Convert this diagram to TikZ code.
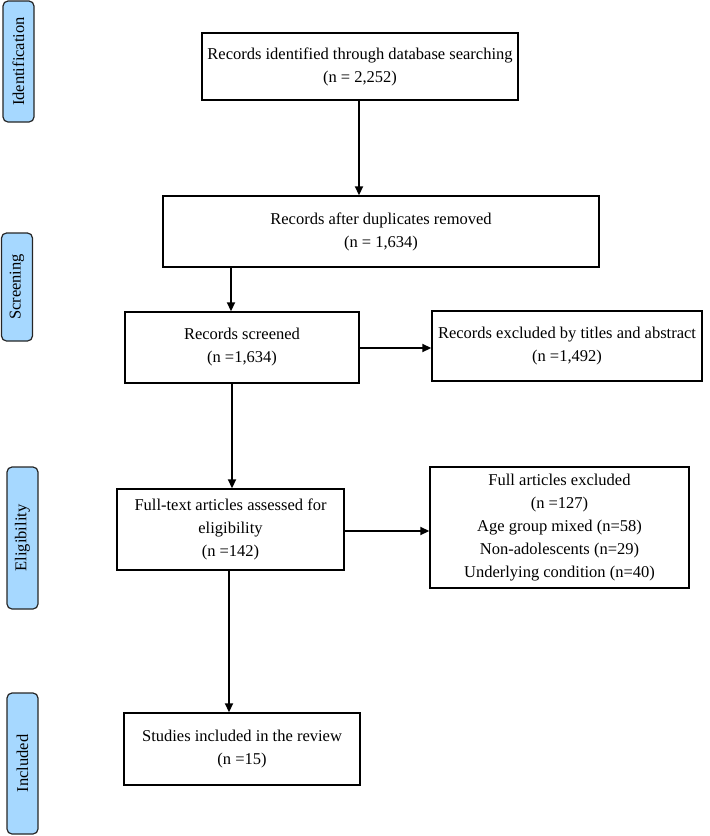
\documentclass[tikz,border=0pt]{standalone}
\usepackage{fontspec}
\setmainfont{Liberation Serif}
\usetikzlibrary{arrows.meta}
\definecolor{sideblue}{RGB}{166,216,255}
\begin{document}
\begin{tikzpicture}[x=1pt,y=-1pt,
  box/.style={draw=black,line width=1.4pt,fill=white,align=center,inner sep=0pt,
    font=\fontsize{16.5}{23}\selectfont},
  side/.style={draw=black!85,line width=1.2pt,fill=sideblue,rounded corners=5pt,
    inner sep=0pt},
  sidetext/.style={rotate=90,font=\fontsize{16.5}{19}\selectfont},
  arr/.style={line width=1.8pt,-{Triangle[length=9pt,width=8pt]}}]
\useasboundingbox (0,0) rectangle (710,836);
% side labels
\node[side,minimum width=31pt,minimum height=121pt] (sid) at (18.5,61.5) {};
\node[sidetext] at (sid.center) {Identification};
\node[side,minimum width=31pt,minimum height=108pt] (ssc) at (17,287) {};
\node[sidetext] at (ssc.center) {Screening};
\node[side,minimum width=31pt,minimum height=142pt] (sel) at (22.5,538) {};
\node[sidetext] at (sel.center) {Eligibility};
\node[side,minimum width=31pt,minimum height=141pt] (sin) at (22.5,763.5) {};
\node[sidetext] at (sin.center) {Included};
% boxes
\node[box,minimum width=316pt,minimum height=67pt] (b1) at (360,66.5)
  {Records identified through database searching\\(n = 2,252)};
\node[box,minimum width=436pt,minimum height=71pt] (b2) at (381,231.5)
  {Records after duplicates removed\\(n = 1,634)};
\node[box,minimum width=234pt,minimum height=71pt] (b3) at (242,347.5)
  {Records screened\\(n =1,634)};
\node[box,minimum width=270pt,minimum height=70pt] (b4) at (567,346)
  {Records excluded by titles and abstract\\(n =1,492)};
\node[box,minimum width=227pt,minimum height=81pt] (b5) at (230.5,529.5)
  {Full-text articles assessed for\\eligibility\\(n =142)};
\node[box,minimum width=259pt,minimum height=121pt] (b6) at (559.5,527.5)
  {Full articles excluded\\(n =127)\\Age group mixed (n=58)\\Non-adolescents (n=29)\\Underlying condition (n=40)};
\node[box,minimum width=236pt,minimum height=72pt] (b7) at (242,749)
  {Studies included in the review\\(n =15)};
% connector guides
\coordinate (x1) at (359,0);
\coordinate (x2) at (231,0);
\coordinate (x3) at (232,0);
\coordinate (x5) at (229,0);
\coordinate (y3) at (0,348);
\coordinate (y5) at (0,531);
% connectors
\draw[arr] (b1.south -| x1) -- (b2.north -| x1);
\draw[arr] (b2.south -| x2) -- (b3.north -| x2);
\draw[arr] (b3.east |- y3) -- (b4.west |- y3);
\draw[arr] (b3.south -| x3) -- (b5.north -| x3);
\draw[arr] (b5.east |- y5) -- (b6.west |- y5);
\draw[arr] (b5.south -| x5) -- (b7.north -| x5);
\end{tikzpicture}
\end{document}
